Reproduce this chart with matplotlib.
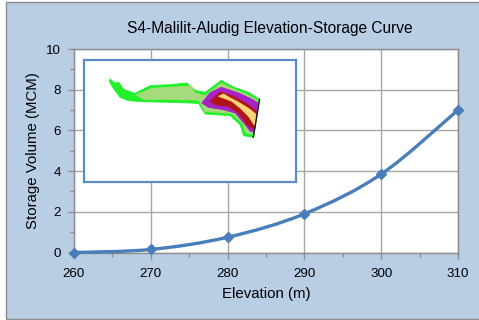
#!/usr/bin/env python3
"""Elevation-storage curve with the reservoir map as an inset."""

import matplotlib
matplotlib.use("Agg")
import matplotlib.pyplot as plt
import matplotlib.patches as mpatches
from matplotlib.path import Path
from matplotlib.ticker import MultipleLocator

plt.rcParams["font.family"] = ["Liberation Sans", "DejaVu Sans"]

W, H = 479, 320

elevation = [260, 270, 280, 290, 300, 310]
storage = [0.0, 0.15, 0.75, 1.9, 3.85, 7.0]

# reservoir map outlines, traced in the inset's own units
map_extent = (42, 677, 396, 30)
outer_green = [(120, 87), (135, 100), (145, 96), (160, 118), (195, 130), (240, 107), (300, 104),
               (350, 99), (375, 121), (405, 127), (453, 91), (490, 111), (535, 127), (568, 148),
               (550, 262), (520, 257), (510, 225), (480, 197), (405, 192), (385, 160),
               (300, 157), (220, 155), (175, 152), (150, 142), (130, 115), (118, 95)]
pale_green = [(198, 135), (245, 115), (300, 112), (360, 108), (375, 130), (405, 137), (453, 100),
              (490, 118), (530, 134), (562, 152), (547, 253), (526, 248), (518, 222), (485, 190),
              (405, 184), (385, 150), (290, 148), (220, 148)]
purple = [(395, 159), (420, 128), (453, 112), (505, 129), (540, 145), (562, 158), (552, 246),
          (540, 244), (525, 224), (495, 189), (460, 179), (415, 172)]
dark_red = [(420, 154), (450, 126), (490, 139), (530, 162), (558, 184), (553, 240),
            (530, 224), (505, 189), (475, 169), (435, 164)]
yellow = [(445, 139), (460, 132), (480, 144), (500, 154), (525, 169), (540, 179), (556, 192),
          (555, 214), (553, 226), (535, 199), (510, 174), (485, 154), (465, 146)]
dam_line = [(568, 148), (549, 262)]


def px_axes(fig, left, top, right, bottom, **kw):
    return fig.add_axes([left / W, 1 - bottom / H, (right - left) / W, (bottom - top) / H], **kw)


def smooth_path(xs, ys, k=1 / 6):
    # Bezier through the points, same idea as the spreadsheet's smoothed line
    verts = [(xs[0], ys[0])]
    codes = [Path.MOVETO]
    n = len(xs)
    for i in range(n - 1):
        p0 = max(i - 1, 0)
        p3 = min(i + 2, n - 1)
        c1 = (xs[i] + (xs[i + 1] - xs[p0]) * k, ys[i] + (ys[i + 1] - ys[p0]) * k)
        c2 = (xs[i + 1] - (xs[p3] - xs[i]) * k, ys[i + 1] - (ys[p3] - ys[i]) * k)
        verts += [c1, c2, (xs[i + 1], ys[i + 1])]
        codes += [Path.CURVE4] * 3
    return Path(verts, codes)


fig = plt.figure(figsize=(W / 100, H / 100), dpi=100, facecolor="white")

# chart area background with its grey border
fig.patches.append(mpatches.Rectangle(
    (5.5 / W, 1.5 / H), 1.1, 1 - 3 / H, transform=fig.transFigure,
    facecolor="#b9cde5", edgecolor="#8c8c8c", linewidth=1.0, zorder=-1))

ax = px_axes(fig, 74, 49, 458, 252.5, facecolor="white")
ax.set_xlim(260, 310)
ax.set_ylim(0, 10)
ax.xaxis.set_major_locator(MultipleLocator(10))
ax.xaxis.set_minor_locator(MultipleLocator(5))
ax.yaxis.set_major_locator(MultipleLocator(2))
ax.yaxis.set_minor_locator(MultipleLocator(1))
ax.grid(which="major", color="#a6a6a6", linewidth=1.0)
ax.set_axisbelow(True)
for s in ax.spines.values():
    s.set_color("#8c8c8c")
    s.set_linewidth(1.0)
ax.tick_params(which="major", length=4, width=1.0, color="#8c8c8c", labelsize=9.6, labelcolor="black")
ax.tick_params(which="minor", length=3, width=1.0, color="#8c8c8c")
ax.tick_params(axis="y", which="major", pad=5.5)
ax.tick_params(axis="x", which="major", pad=7)

ax.add_patch(mpatches.PathPatch(smooth_path(elevation, storage), facecolor="none",
                                edgecolor="#4a7ebb", linewidth=2.4, capstyle="round",
                                clip_on=False, zorder=3))
ax.plot(elevation, storage, linestyle="none", marker="D", markersize=5.2, color="#4a7ebb",
        clip_on=False, zorder=4)

fig.text(266 / W, 1 - 294 / H, "Elevation (m)", fontsize=10.8, ha="center", va="center")
fig.text(33 / W, 1 - 150.5 / H, "Storage Volume (MCM)", fontsize=10.8, rotation=90,
         ha="center", va="center")
fig.text(269.5 / W, 1 - 29 / H, "S4-Malilit-Aludig Elevation-Storage Curve",
         fontsize=11.2, ha="center", va="center")

# inset map
inset = px_axes(fig, 84, 60, 296, 182, facecolor="white", zorder=5)
inset.set_xlim(map_extent[0], map_extent[1])
inset.set_ylim(map_extent[2], map_extent[3])
inset.set_xticks([])
inset.set_yticks([])
for s in inset.spines.values():
    s.set_color("#5b8cc8")
    s.set_linewidth(1.6)
for outline, colour in [(outer_green, "#22f02a"), (pale_green, "#a6da7c"), (purple, "#a822c8"),
                        (dark_red, "#b01414"), (yellow, "#fbd477")]:
    inset.add_patch(mpatches.Polygon(outline, closed=True, facecolor=colour, edgecolor=colour,
                                     linewidth=0.6, joinstyle="round"))
inset.plot([p[0] for p in dam_line], [p[1] for p in dam_line], color="#1a1a1a", linewidth=1.0)

fig.savefig("out.png", dpi=100)
